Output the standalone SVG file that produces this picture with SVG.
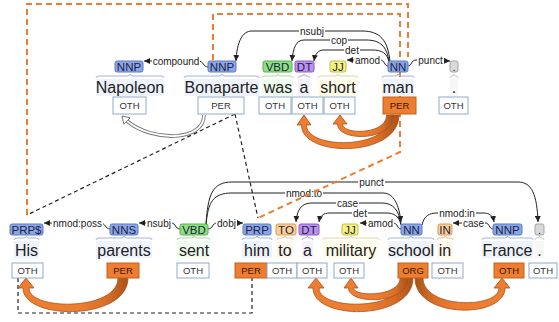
<svg xmlns="http://www.w3.org/2000/svg" width="559" height="322" viewBox="0 0 559 322">
<defs>
  <marker id="ah" viewBox="0 0 10 10" refX="10" refY="5" markerWidth="6" markerHeight="6" markerUnits="userSpaceOnUse" orient="auto">
    <path d="M0,0 L10,5 L0,10 z" fill="#222"/>
  </marker>
  <!-- ribbon shading: darker where the flow leaves its source box -->
  <linearGradient id="flowL" x1="1" y1="0" x2="0" y2="0">
    <stop offset="0" stop-color="#a9521a"/>
    <stop offset="0.2" stop-color="#d96f27"/>
    <stop offset="0.45" stop-color="#ed7d31"/>
    <stop offset="1" stop-color="#ed7d31"/>
  </linearGradient>
  <linearGradient id="flowR" x1="0" y1="0" x2="1" y2="0">
    <stop offset="0" stop-color="#a9521a"/>
    <stop offset="0.2" stop-color="#d96f27"/>
    <stop offset="0.45" stop-color="#ed7d31"/>
    <stop offset="1" stop-color="#ed7d31"/>
  </linearGradient>
  <style>
    text { font-family: "Liberation Sans", Arial, sans-serif; }
    .arcm { fill: none; stroke: #222; stroke-width: 1; marker-end: url(#ah); }
    .lbg { fill: #fff; }
    .lab { font-size: 10px; fill: #222; text-anchor: middle; }
    .coref { fill: none; stroke: #ed7d31; stroke-width: 2; stroke-dasharray: 6 4; }
    .link { fill: none; stroke: #222; stroke-width: 1.2; stroke-dasharray: 4 3; }
    .flow { fill: url(#flowL); stroke: #a9521a; stroke-width: 0.8; stroke-linejoin: round; }
    .flow.r { fill: url(#flowR); }
    .tag rect { stroke-width: 1; }
    .tag text { font-size: 11.5px; fill: #1c2248; text-anchor: middle; }
    .nn rect { fill: #8ba6e4; stroke: #5d7bc6; }
    .vb rect { fill: #8de07f; stroke: #56b04a; }
    .dt rect { fill: #bb90f0; stroke: #8a5cc8; }
    .jj rect { fill: #f5f27c; stroke: #c4bf45; }
    .in rect { fill: #f9cf95; stroke: #d39d52; }
    .pu rect { fill: #d9d9d9; stroke: #a5a5a5; }
    .hl-nn { fill: #edf2fb; } .br-nn { stroke: #a3b6dc; }
    .hl-vb { fill: #effbee; } .br-vb { stroke: #a8dca2; }
    .hl-dt { fill: #f5effc; } .br-dt { stroke: #c3a9e2; }
    .hl-jj { fill: #fffde8; } .br-jj { stroke: #dcd99c; }
    .hl-in { fill: #fff6ea; } .br-in { stroke: #e2c59e; }
    .hl-pu { fill: #f7f7f7; } .br-pu { stroke: #c8c8c8; }
    .brace { fill: none; stroke-width: 1; }
    .word { font-size: 16px; fill: #222; text-anchor: middle; }
    .ent rect { fill: #fff; stroke: #8eaacb; stroke-width: 1; }
    .ent.on rect { fill: #ed7d31; stroke: #c0651f; }
    .ent text { font-size: 9.5px; fill: #333; text-anchor: middle; }
    .ent.on text { fill: #3a1a00; }
  </style>
</defs>
<rect width="559" height="322" fill="#fff"/>

<g id="connectors">
  <!-- dependency arcs, first sentence -->
  <path class="arcm" d="M208,67 C203,67 204,61 198,61 L144,61"/>
  <path class="arcm" d="M390,62 C388,40 380,31 362,31 L252,31 C242,31 237,42 236,61"/>
  <path class="arcm" d="M389,62 C387,46 380,40 366,40 L304,40 C296,40 293,48 292,61"/>
  <path class="arcm" d="M389,62 C387,53 382,50 372,50 L324,50 C318,50 315,54 314,61"/>
  <path class="arcm" d="M388,66 C384,66 385,60 380,60 L347,60"/>
  <path class="arcm" d="M408,66 C412,66 411,60 416,60 L450,61"/>
  <!-- dependency arcs, second sentence -->
  <path class="arcm" d="M110,229 C105,229 106,223 100,223 L44,223"/>
  <path class="arcm" d="M180,229 C175,229 176,223 171,223 L139,223"/>
  <path class="arcm" d="M208,229 C213,229 212,223 217,223 L243,223"/>
  <path class="arcm" d="M206,224 C208,195 212,182 232,182 L518,182 C532,182 537,195 538,222"/>
  <path class="arcm" d="M206,225 C208,202 213,193 232,193 L383,193 C394,193 399,205 401,222"/>
  <path class="arcm" d="M401,224 C399,210 393,203 382,203 L312,203 C301,203 297,210 296,222"/>
  <path class="arcm" d="M401,225 C399,216 394,213 386,213 L330,213 C323,213 320,216 319,222"/>
  <path class="arcm" d="M401,229 C397,229 398,223 393,223 L360,223"/>
  <path class="arcm" d="M422,225 C424,216 429,213 437,213 L483,213 C490,213 493,216 494,222"/>
  <path class="arcm" d="M493,229 C489,229 490,223 485,223 L453,223"/>

  <!-- arc labels -->
  <g>
    <rect class="lbg" x="152" y="56" width="48" height="10"/><text class="lab" x="176" y="64.5">compound</text>
    <rect class="lbg" x="299" y="26" width="26" height="10"/><text class="lab" x="312" y="34.5">nsubj</text>
    <rect class="lbg" x="330" y="35" width="18" height="10"/><text class="lab" x="339" y="43.5">cop</text>
    <rect class="lbg" x="344" y="45" width="16" height="10"/><text class="lab" x="352" y="53.5">det</text>
    <rect class="lbg" x="354" y="55" width="27" height="10"/><text class="lab" x="367.5" y="63.5">amod</text>
    <rect class="lbg" x="417" y="55" width="27" height="10"/><text class="lab" x="430.5" y="63.5">punct</text>
    <rect class="lbg" x="52" y="218" width="51" height="10"/><text class="lab" x="77.5" y="226.5">nmod:poss</text>
    <rect class="lbg" x="146" y="218" width="26" height="10"/><text class="lab" x="159" y="226.5">nsubj</text>
    <rect class="lbg" x="216" y="218" width="21" height="10"/><text class="lab" x="226.5" y="226.5">dobj</text>
    <rect class="lbg" x="358" y="177" width="27" height="10"/><text class="lab" x="371.5" y="185.5">punct</text>
    <rect class="lbg" x="285" y="188" width="38" height="10"/><text class="lab" x="304" y="196.5">nmod:to</text>
    <rect class="lbg" x="336" y="198" width="23" height="10"/><text class="lab" x="347.5" y="206.5">case</text>
    <rect class="lbg" x="352" y="208" width="16" height="10"/><text class="lab" x="360" y="216.5">det</text>
    <rect class="lbg" x="367" y="218" width="27" height="10"/><text class="lab" x="380.5" y="226.5">amod</text>
    <rect class="lbg" x="438" y="208" width="38" height="10"/><text class="lab" x="457" y="216.5">nmod:in</text>
    <rect class="lbg" x="462" y="218" width="23" height="10"/><text class="lab" x="473.5" y="226.5">case</text>
  </g>

  <!-- coreference chains -->
  <path class="coref" d="M27,215 V4 H408 V57"/>
  <path class="coref" d="M213,60 V14 H400 V152 L258,218"/>
  <path class="link" d="M235,114 L27,215"/>
  <path class="link" d="M235,114 L258,218"/>
  <path class="link" d="M18,278 V313 H252 V278"/>

  <!-- entity flows -->
  <path class="flow" d="M399,115 C399,158 301.5,158 301.5,125 L297,125 L304,115 L311,125 L306.5,125 C306.5,150 391,150 391,115 Z"/>
  <path class="flow" d="M393.5,115 C393.5,142 337.5,142 337.5,124 L333,124 L340,115 L347,124 L342.5,124 C342.5,135 386.5,135 386.5,115 Z"/>
  <path class="flow" d="M128,278 C128,321 23,321 23,288 L18,288 L26,278 L34,288 L29,288 C29,311 118,311 118,278 Z"/>
  <path class="flow" d="M413,278 C413,321 313,321 313,288 L308,288 L316,278 L324,288 L319,288 C319,311 405,311 405,278 Z"/>
  <path class="flow" d="M408,278 C408,305 348.5,305 348.5,288 L344,288 L351,278 L358,288 L353.5,288 C353.5,297 400,297 400,278 Z"/>
  <path class="flow r" d="M415,278 C415,319 505,319 505,288 L510,288 L502,278 L494,288 L499,288 C499,309 423,309 423,278 Z"/>

  <!-- same-entity link -->
  <path d="M204,115 C204,142 152,142 127,121" fill="none" stroke="#777" stroke-width="3.6"/>
  <path d="M204,115 C204,142 152,142 127,121" fill="none" stroke="#fff" stroke-width="1.8"/>
  <polygon points="122,116 130.2,117.8 123.8,124.2" fill="#fff" stroke="#777" stroke-width="1"/>
</g>

<!-- first sentence -->
<g id="w-napoleon">
  <rect class="hl-nn" x="96" y="79" width="68" height="17"/>
  <path class="brace br-nn" d="M96,78 Q96,76 99,76 L127,76 Q130,76 130,74 Q130,76 133,76 L161,76 Q164,76 164,78"/>
  <g class="tag nn"><rect x="115" y="61" width="28" height="11" rx="2"/><text x="129" y="70.5">NNP</text></g>
  <text class="word" x="130" y="93">Napoleon</text>
  <g class="ent"><rect x="113" y="97" width="33" height="17"/><text x="129.5" y="109">OTH</text></g>
</g>
<g id="w-bonaparte">
  <rect class="hl-nn" x="184" y="79" width="75" height="17"/>
  <path class="brace br-nn" d="M184,78 Q184,76 187,76 L219,76 Q222,76 222,74 Q222,76 225,76 L256,76 Q259,76 259,78"/>
  <g class="tag nn"><rect x="208" y="61" width="28" height="11" rx="2"/><text x="222" y="70.5">NNP</text></g>
  <text class="word" x="221.5" y="93">Bonaparte</text>
  <g class="ent"><rect x="198" y="97" width="46" height="17"/><text x="221" y="109">PER</text></g>
</g>
<g id="w-was">
  <rect class="hl-vb" x="262" y="79" width="31" height="17"/>
  <path class="brace br-vb" d="M262,78 Q262,76 265,76 L275,76 Q278,76 278,74 Q278,76 281,76 L290,76 Q293,76 293,78"/>
  <g class="tag vb"><rect x="263" y="61" width="29" height="11" rx="2"/><text x="277.5" y="70.5">VBD</text></g>
  <text class="word" x="278" y="93">was</text>
  <g class="ent"><rect x="259" y="97" width="32" height="17"/><text x="275" y="109">OTH</text></g>
</g>
<g id="w-a1">
  <rect class="hl-dt" x="298" y="79" width="12" height="17"/>
  <path class="brace br-dt" d="M298,78 Q298,76 301,76 Q304,76 304,74 Q304,76 307,76 Q310,76 310,78"/>
  <g class="tag dt"><rect x="295" y="61" width="19" height="11" rx="2"/><text x="304.5" y="70.5">DT</text></g>
  <text class="word" x="304" y="93">a</text>
  <g class="ent"><rect x="292" y="97" width="31" height="17"/><text x="307.5" y="109">OTH</text></g>
</g>
<g id="w-short">
  <rect class="hl-jj" x="318" y="79" width="40" height="17"/>
  <path class="brace br-jj" d="M318,78 Q318,76 321,76 L335,76 Q338,76 338,74 Q338,76 341,76 L355,76 Q358,76 358,78"/>
  <g class="tag jj"><rect x="330" y="61" width="16" height="11" rx="2"/><text x="338" y="70.5">JJ</text></g>
  <text class="word" x="338" y="93">short</text>
  <g class="ent"><rect x="324" y="97" width="31" height="17"/><text x="339.5" y="109">OTH</text></g>
</g>
<g id="w-man">
  <rect class="hl-nn" x="382" y="79" width="32" height="17"/>
  <path class="brace br-nn" d="M382,78 Q382,76 385,76 L395,76 Q398,76 398,74 Q398,76 401,76 L411,76 Q414,76 414,78"/>
  <g class="tag nn"><rect x="388" y="61" width="20" height="11" rx="2"/><text x="398" y="70.5">NN</text></g>
  <text class="word" x="398" y="93">man</text>
  <g class="ent on"><rect x="383" y="97" width="33" height="17"/><text x="399.5" y="109">PER</text></g>
</g>
<g id="w-period1">
  <rect class="hl-pu" x="450" y="79" width="8" height="17"/>
  <path class="brace br-pu" d="M450,78 Q450,76 452,76 Q454,76 454,74 Q454,76 456,76 Q458,76 458,78"/>
  <g class="tag pu"><rect x="450" y="61" width="8" height="11" rx="2"/><text x="454" y="70.5">.</text></g>
  <text class="word" x="454" y="93">.</text>
  <g class="ent"><rect x="439" y="97" width="29" height="17"/><text x="453.5" y="109">OTH</text></g>
</g>

<!-- second sentence -->
<g id="w-his">
  <rect class="hl-nn" x="14" y="241" width="25" height="17"/>
  <path class="brace br-nn" d="M14,240 Q14,238 17,238 L23.5,238 Q26.5,238 26.5,236 Q26.5,238 29.5,238 L36,238 Q39,238 39,240"/>
  <g class="tag nn"><rect x="10" y="224" width="33" height="11" rx="2"/><text x="26.5" y="233.5">PRP$</text></g>
  <text class="word" x="26.5" y="256">His</text>
  <g class="ent"><rect x="12" y="263" width="31" height="15"/><text x="27.5" y="274">OTH</text></g>
</g>
<g id="w-parents">
  <rect class="hl-nn" x="96" y="241" width="56" height="17"/>
  <path class="brace br-nn" d="M96,240 Q96,238 99,238 L121,238 Q124,238 124,236 Q124,238 127,238 L149,238 Q152,238 152,240"/>
  <g class="tag nn"><rect x="110" y="224" width="28" height="11" rx="2"/><text x="124" y="233.5">NNS</text></g>
  <text class="word" x="124" y="256">parents</text>
  <g class="ent on"><rect x="107" y="263" width="32" height="15"/><text x="123" y="274">PER</text></g>
</g>
<g id="w-sent">
  <rect class="hl-vb" x="177" y="241" width="33" height="17"/>
  <path class="brace br-vb" d="M177,240 Q177,238 180,238 L191,238 Q194,238 194,236 Q194,238 197,238 L207,238 Q210,238 210,240"/>
  <g class="tag vb"><rect x="180" y="224" width="28" height="11" rx="2"/><text x="194" y="233.5">VBD</text></g>
  <text class="word" x="194" y="256">sent</text>
  <g class="ent"><rect x="177" y="263" width="32" height="15"/><text x="193" y="274">OTH</text></g>
</g>
<g id="w-him">
  <rect class="hl-nn" x="242" y="241" width="30" height="17"/>
  <path class="brace br-nn" d="M242,240 Q242,238 245,238 L254,238 Q257,238 257,236 Q257,238 260,238 L269,238 Q272,238 272,240"/>
  <g class="tag nn"><rect x="243" y="224" width="28" height="11" rx="2"/><text x="257" y="233.5">PRP</text></g>
  <text class="word" x="257" y="256">him</text>
  <g class="ent on"><rect x="235" y="263" width="32" height="15"/><text x="251" y="274">PER</text></g>
</g>
<g id="w-to">
  <rect class="hl-in" x="277" y="241" width="16" height="17"/>
  <path class="brace br-in" d="M277,240 Q277,238 280,238 L282,238 Q285,238 285,236 Q285,238 288,238 L290,238 Q293,238 293,240"/>
  <g class="tag in"><rect x="276" y="224" width="20" height="11" rx="2"/><text x="286" y="233.5">TO</text></g>
  <text class="word" x="285" y="256">to</text>
  <g class="ent"><rect x="267" y="263" width="30" height="15"/><text x="282" y="274">OTH</text></g>
</g>
<g id="w-a2">
  <rect class="hl-dt" x="302" y="241" width="11" height="17"/>
  <path class="brace br-dt" d="M302,240 Q302,238 305,238 Q307.5,238 307.5,236 Q307.5,238 310,238 Q313,238 313,240"/>
  <g class="tag dt"><rect x="299" y="224" width="20" height="11" rx="2"/><text x="309" y="233.5">DT</text></g>
  <text class="word" x="307.5" y="256">a</text>
  <g class="ent"><rect x="297" y="263" width="30" height="15"/><text x="312" y="274">OTH</text></g>
</g>
<g id="w-military">
  <rect class="hl-jj" x="323" y="241" width="56" height="17"/>
  <path class="brace br-jj" d="M323,240 Q323,238 326,238 L348,238 Q351,238 351,236 Q351,238 354,238 L376,238 Q379,238 379,240"/>
  <g class="tag jj"><rect x="342" y="224" width="16" height="11" rx="2"/><text x="350" y="233.5">JJ</text></g>
  <text class="word" x="351" y="256">military</text>
  <g class="ent"><rect x="334" y="263" width="30" height="15"/><text x="349" y="274">OTH</text></g>
</g>
<g id="w-school">
  <rect class="hl-nn" x="388" y="241" width="46" height="17"/>
  <path class="brace br-nn" d="M388,240 Q388,238 391,238 L408,238 Q411,238 411,236 Q411,238 414,238 L431,238 Q434,238 434,240"/>
  <g class="tag nn"><rect x="401" y="224" width="21" height="11" rx="2"/><text x="411.5" y="233.5">NN</text></g>
  <text class="word" x="411" y="256">school</text>
  <g class="ent on"><rect x="398" y="263" width="30" height="15"/><text x="413" y="274">ORG</text></g>
</g>
<g id="w-in">
  <rect class="hl-in" x="437" y="241" width="16" height="17"/>
  <path class="brace br-in" d="M437,240 Q437,238 440,238 L442,238 Q445,238 445,236 Q445,238 448,238 L450,238 Q453,238 453,240"/>
  <g class="tag in"><rect x="438" y="224" width="14" height="11" rx="2"/><text x="445" y="233.5">IN</text></g>
  <text class="word" x="445" y="256">in</text>
  <g class="ent"><rect x="432" y="263" width="31" height="15"/><text x="447.5" y="274">OTH</text></g>
</g>
<g id="w-france">
  <rect class="hl-nn" x="482" y="241" width="51" height="17"/>
  <path class="brace br-nn" d="M482,240 Q482,238 485,238 L504.5,238 Q507.5,238 507.5,236 Q507.5,238 510.5,238 L530,238 Q533,238 533,240"/>
  <g class="tag nn"><rect x="493" y="224" width="29" height="11" rx="2"/><text x="507.5" y="233.5">NNP</text></g>
  <text class="word" x="507.5" y="256">France</text>
  <g class="ent on"><rect x="494" y="263" width="30" height="15"/><text x="509" y="274">OTH</text></g>
</g>
<g id="w-period2">
  <rect class="hl-pu" x="535" y="241" width="9" height="17"/>
  <path class="brace br-pu" d="M535,240 Q535,238 537,238 Q539.5,238 539.5,236 Q539.5,238 542,238 Q544,238 544,240"/>
  <g class="tag pu"><rect x="535" y="224" width="9" height="11" rx="2"/><text x="539.5" y="233.5">.</text></g>
  <text class="word" x="539.5" y="256">.</text>
  <g class="ent"><rect x="529" y="263" width="28" height="15"/><text x="543" y="274">OTH</text></g>
</g>
</svg>
